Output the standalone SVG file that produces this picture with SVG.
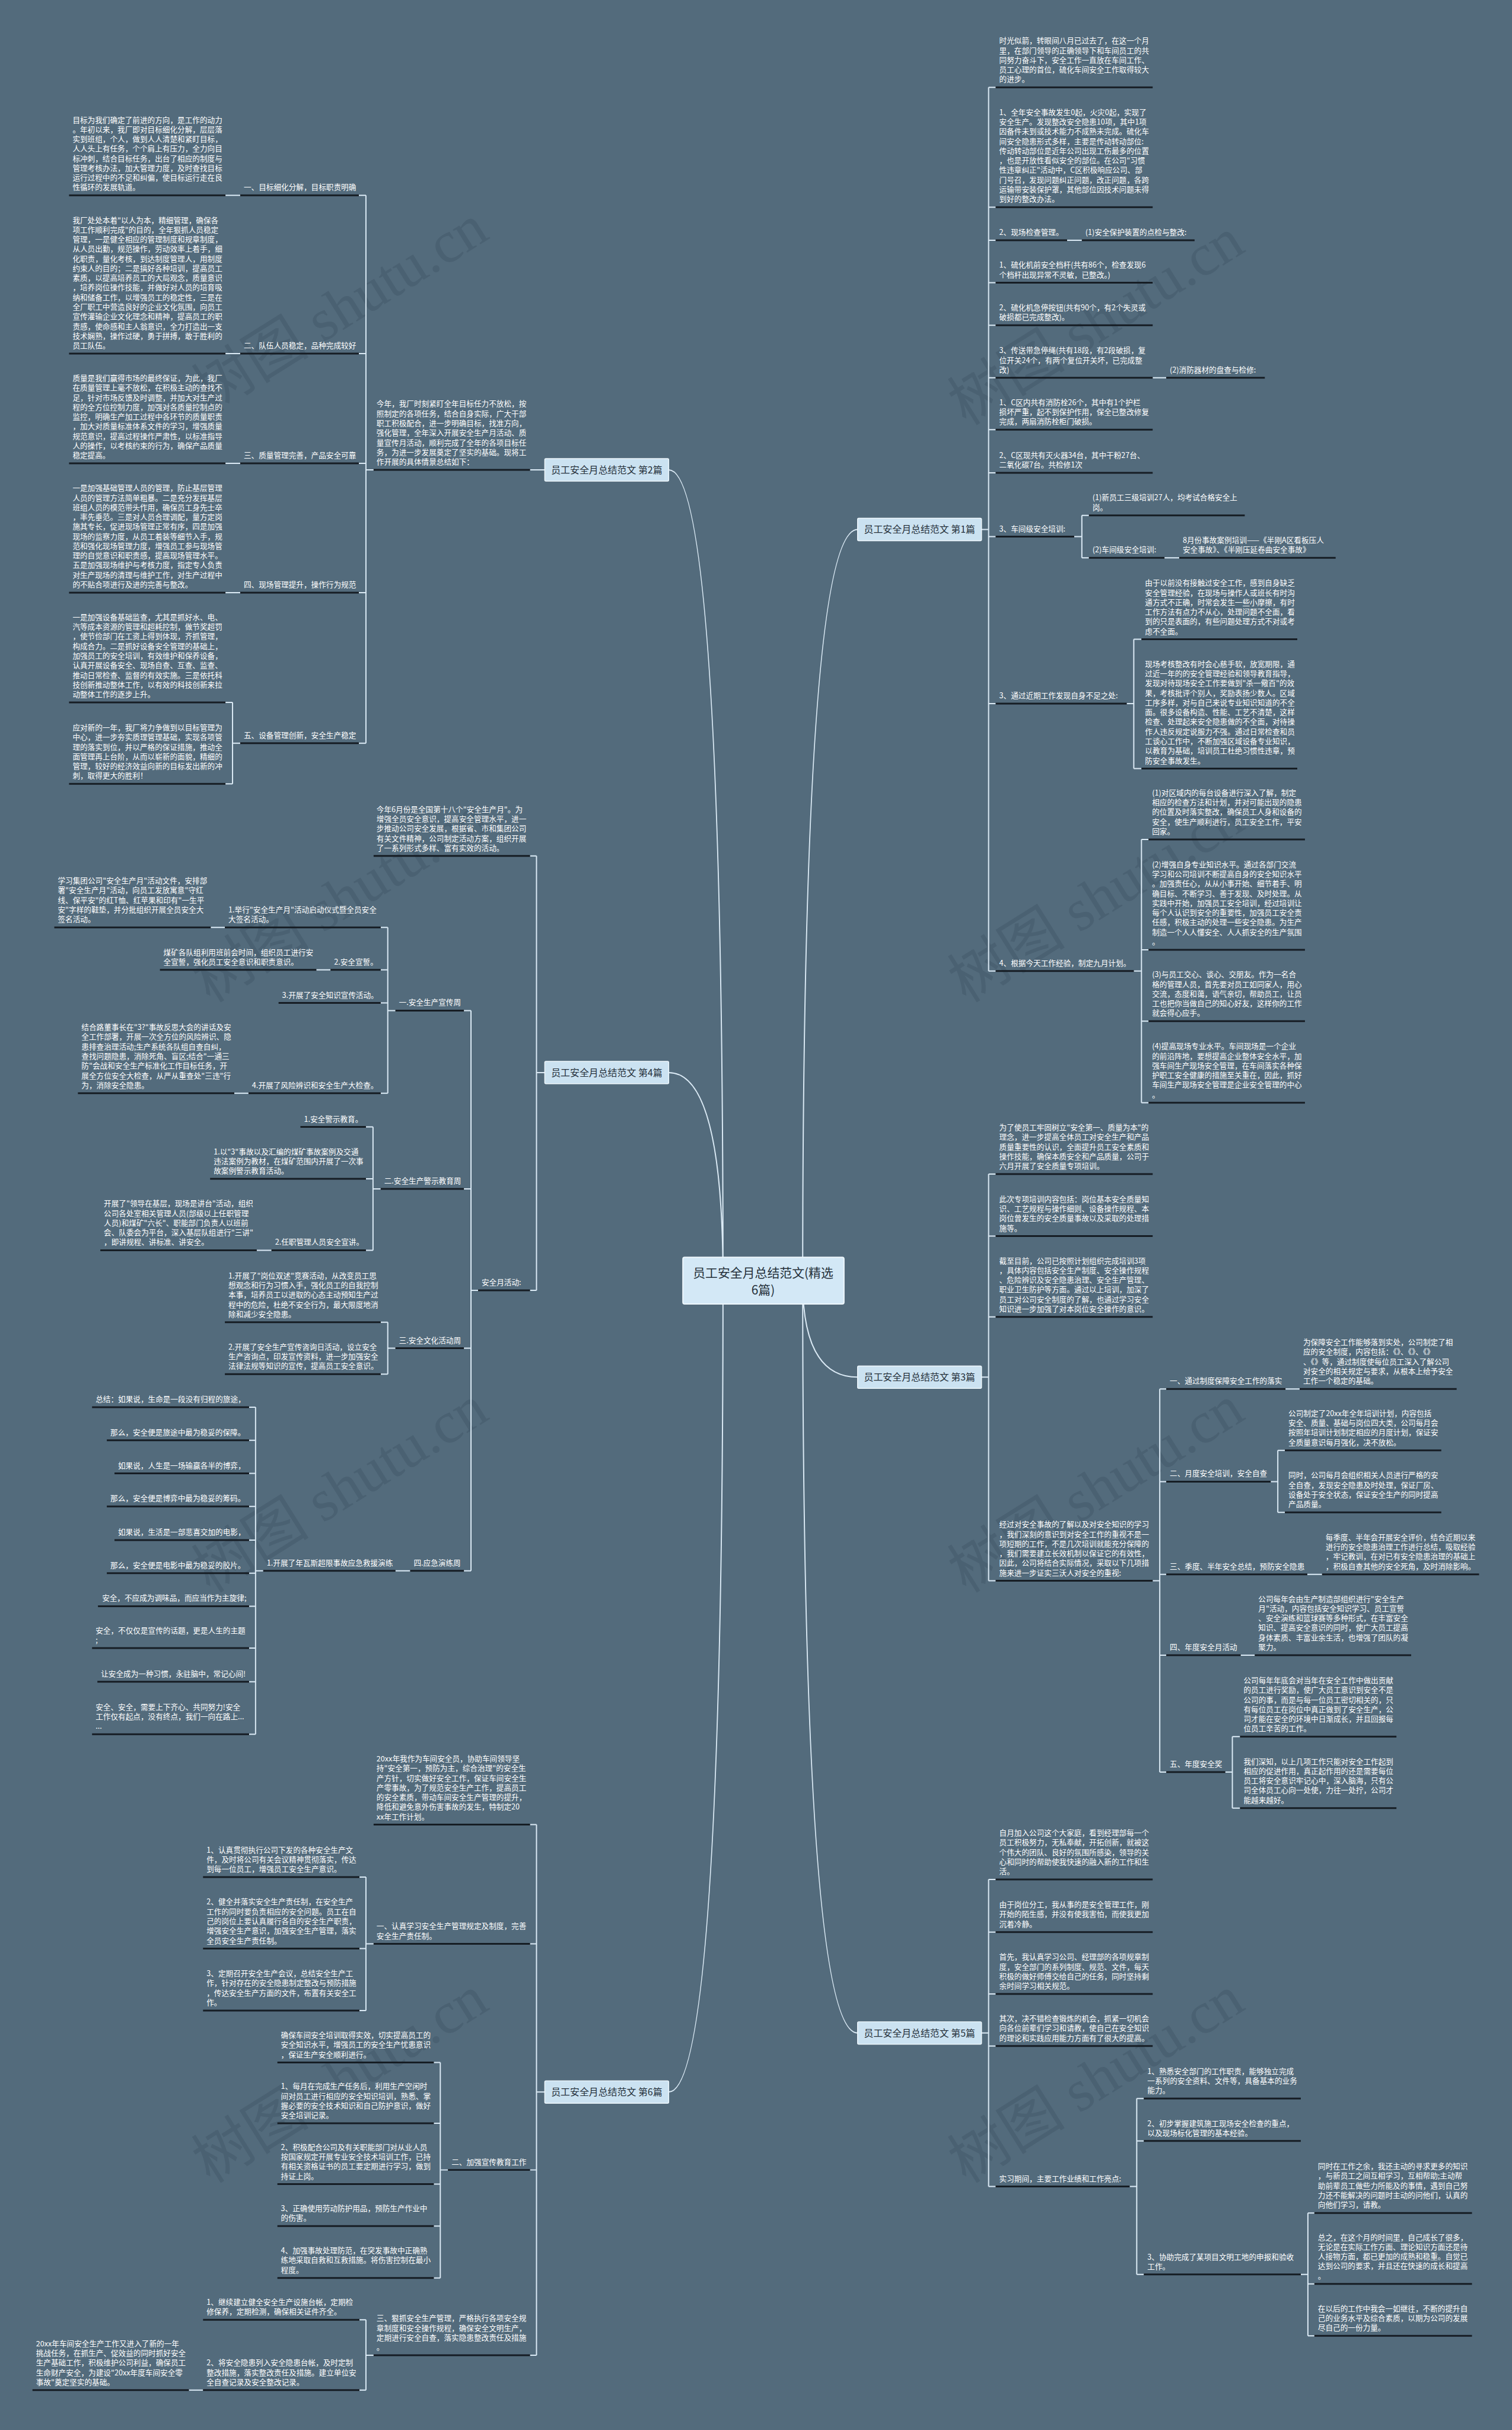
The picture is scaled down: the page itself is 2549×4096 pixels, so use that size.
<svg xmlns="http://www.w3.org/2000/svg" width="2549" height="4096" viewBox="0 0 2549 4096">
<style>
.t{font-family:'Noto Sans CJK SC','Noto Sans',sans-serif;font-size:12.7px;fill:#ffffff}
.ul{stroke:#161d24;stroke-width:3}
.c{stroke:#dbeaf5;stroke-width:2;fill:none}
.box{fill:#cbe2f1;stroke:#eef7fc;stroke-width:1.5}
.bt{font-family:'Noto Sans CJK SC','Noto Sans',sans-serif;font-size:16px;fill:#25303a;text-anchor:middle}
.ct{font-family:'Noto Sans CJK SC','Noto Sans',sans-serif;font-size:21px;fill:#25303a;text-anchor:middle}
.wm{font-family:'Liberation Serif','Noto Sans CJK SC',serif;font-size:100px;fill:#44596a;opacity:0.55}
</style>
<rect x="0" y="0" width="2549" height="4096" fill="#536b7c"/>
<g transform="scale(0.995)">
<g id="watermarks">
<text class="wm" transform="translate(356 700) rotate(-32)">树图 shutu.cn</text>
<text class="wm" transform="translate(356 1700) rotate(-32)">树图 shutu.cn</text>
<text class="wm" transform="translate(356 2700) rotate(-32)">树图 shutu.cn</text>
<text class="wm" transform="translate(356 3700) rotate(-32)">树图 shutu.cn</text>
<text class="wm" transform="translate(1637 722) rotate(-32)">树图 shutu.cn</text>
<text class="wm" transform="translate(1637 1700) rotate(-32)">树图 shutu.cn</text>
<text class="wm" transform="translate(1637 2700) rotate(-32)">树图 shutu.cn</text>
<text class="wm" transform="translate(1637 3700) rotate(-32)">树图 shutu.cn</text>
</g>
<g id="connectors" class="c">
<path d="M1133 796 Q1225 796 1225 2170 M1133 1817 Q1225 1817 1225 2170 M1133 3544 Q1225 3544 1225 2170 M1453 897 Q1360 897 1360 2170 M1453 2333 Q1360 2333 1360 2170 M1453 3444 Q1360 3444 1360 2170"/>
<path d="M898 796H923 M620 331V1259 M608 331H620 M608 599H620 M608 785H620 M608 1004H620 M608 1259H620 M620 796H633 M382 331H407 M382 599H407 M382 785H407 M382 1004H407 M394 1190V1328 M382 1190H394 M382 1328H394 M394 1259H407"/>
<path d="M909 1450V2186 M898 1450H909 M898 2186H909 M909 1817H923 M798 1712V2661 M786 1712H798 M786 2014H798 M786 2284H798 M786 2661H798 M798 2186H810 M657 1571V1852 M645 1571H657 M645 1643H657 M645 1699H657 M645 1852H657 M657 1712H670 M357 1571H381 M536 1643H560 M397 1852H421 M632 1909V2118 M620 1909H632 M620 1997H632 M620 2118H632 M632 2014H645 M435 2118H460 M657 2240V2328 M645 2240H657 M645 2328H657 M657 2284H670 M670 2661H695 M433 2384V2938 M422 2384H433 M422 2440H433 M422 2496H433 M422 2552H433 M422 2609H433 M422 2665H433 M422 2721H433 M422 2792H433 M422 2849H433 M422 2938H433 M433 2661H446"/>
<path d="M909 3091V3990 M898 3091H909 M898 3293H909 M898 3676H909 M898 3990H909 M909 3544H923 M620 3180V3406 M609 3180H620 M609 3301H620 M609 3406H620 M620 3293H633 M746 3494V3859 M735 3494H746 M735 3597H746 M735 3700H746 M735 3771H746 M735 3859H746 M746 3676H759 M620 3930V4049 M609 3930H620 M609 4049H620 M620 3990H633 M320 4049H344"/>
<path d="M1663 897H1675 M1675 148V1645 M1675 148H1687 M1675 351H1687 M1675 407H1687 M1675 479H1687 M1675 551H1687 M1675 640H1687 M1675 728H1687 M1675 801H1687 M1675 909H1687 M1675 1192H1687 M1675 1645H1687 M1808 407H1833 M1953 640H1976 M1833 873V945 M1820 909H1833 M1833 873H1845 M1833 945H1845 M1973 945H1998 M1921 1083V1302 M1909 1192H1921 M1921 1083H1934 M1921 1302H1934 M1934 1422V1868 M1921 1645H1934 M1934 1422H1946 M1934 1609H1946 M1934 1730H1946 M1934 1868H1946"/>
<path d="M1663 2333H1675 M1675 1989V2678 M1675 1989H1687 M1675 2094H1687 M1675 2231H1687 M1675 2678H1687 M1965 2353V3002 M1953 2678H1965 M1965 2353H1976 M1965 2510H1976 M1965 2667H1976 M1965 2804H1976 M1965 3002H1976 M2178 2353H2202 M2215 2667H2240 M2102 2804H2126 M2165 2457V2562 M2153 2510H2165 M2165 2457H2177 M2165 2562H2177 M2088 2942V3063 M2076 3002H2088 M2088 2942H2101 M2088 3063H2101"/>
<path d="M1663 3444H1675 M1675 3184V3704 M1675 3184H1687 M1675 3273H1687 M1675 3378H1687 M1675 3466H1687 M1675 3704H1687 M1926 3555V3853 M1914 3704H1926 M1926 3555H1938 M1926 3627H1938 M1926 3853H1938 M2216 3749V3957 M2204 3853H2216 M2216 3749H2227 M2216 3869H2227 M2216 3957H2227"/>
</g>

<g id="center"><rect x="1157" y="2130" width="273" height="79" rx="3" fill="#d3e8f6" stroke="#eef7fc" stroke-width="2"/><text class="ct" x="1293" y="2164">员工安全月总结范文(精选</text><text class="ct" x="1293" y="2193">6篇)</text></g>

<g id="b2"><rect class="box" x="923" y="777" width="210" height="38" rx="2"/><text class="bt" x="1028" y="802">员工安全月总结范文 第2篇</text></g>
<g id="b4"><rect class="box" x="923" y="1798" width="210" height="38" rx="2"/><text class="bt" x="1028" y="1823">员工安全月总结范文 第4篇</text></g>
<g id="b6"><rect class="box" x="923" y="3525" width="210" height="38" rx="2"/><text class="bt" x="1028" y="3550">员工安全月总结范文 第6篇</text></g>
<g id="b1"><rect class="box" x="1453" y="878" width="210" height="38" rx="2"/><text class="bt" x="1558" y="903">员工安全月总结范文 第1篇</text></g>
<g id="b3"><rect class="box" x="1453" y="2314" width="210" height="38" rx="2"/><text class="bt" x="1558" y="2339">员工安全月总结范文 第3篇</text></g>
<g id="b5"><rect class="box" x="1453" y="3425" width="210" height="38" rx="2"/><text class="bt" x="1558" y="3450">员工安全月总结范文 第5篇</text></g>

<!-- 第2篇 -->
<g id="p2-intro"><text class="t" y="688.9"><tspan x="638">今年，我厂时刻紧盯全年目标任力不放松，按</tspan><tspan x="638" dy="16.35">照制定的各项任务，结合自身实际，广大干部</tspan><tspan x="638" dy="16.35">职工积极配合，进一步明确目标，找准方向，</tspan><tspan x="638" dy="16.35">强化管理，全年深入开展安全生产月活动、质</tspan><tspan x="638" dy="16.35">量宣传月活动，顺利完成了全年的各项目标任</tspan><tspan x="638" dy="16.35">务，为进一步发展奠定了坚实的基础。现将工</tspan><tspan x="638" dy="16.35">作开展的具体情景总结如下：</tspan></text><line class="ul" x1="633" y1="796" x2="898" y2="796"/></g>
<g id="p2-1"><text class="t" x="413" y="322">一、目标细化分解，目标职责明确</text><line class="ul" x1="407" y1="331" x2="608" y2="331"/></g>
<g id="p2-2"><text class="t" x="413" y="590">二、队伍人员稳定，品种完成较好</text><line class="ul" x1="407" y1="599" x2="608" y2="599"/></g>
<g id="p2-3"><text class="t" x="413" y="776">三、质量管理完善，产品安全可靠</text><line class="ul" x1="407" y1="785" x2="608" y2="785"/></g>
<g id="p2-4"><text class="t" x="413" y="995">四、现场管理提升，操作行为规范</text><line class="ul" x1="407" y1="1004" x2="608" y2="1004"/></g>
<g id="p2-5"><text class="t" x="413" y="1250">五、设备管理创新，安全生产稳定</text><line class="ul" x1="407" y1="1259" x2="608" y2="1259"/></g>
<g id="p2-1a"><text class="t" y="207.55"><tspan x="123">目标为我们确定了前进的方向，是工作的动力</tspan><tspan x="123" dy="16.35">。年初以来，我厂即对目标细化分解，层层落</tspan><tspan x="123" dy="16.35">实到班组，个人，做到人人清楚和紧盯目标，</tspan><tspan x="123" dy="16.35">人人头上有任务，个个肩上有压力，全力向目</tspan><tspan x="123" dy="16.35">标冲刺，结合目标任务，出台了相应的制度与</tspan><tspan x="123" dy="16.35">管理考核办法，加大管理力度，及时查找目标</tspan><tspan x="123" dy="16.35">运行过程中的不足和纠偏，使目标运行走在良</tspan><tspan x="123" dy="16.35">性循环的发展轨道。</tspan></text><line class="ul" x1="117" y1="331" x2="382" y2="331"/></g>
<g id="p2-2a"><text class="t" y="377.45"><tspan x="123">我厂处处本着"以人为本，精细管理，确保各</tspan><tspan x="123" dy="16.35">项工作顺利完成"的目的，全年狠抓人员稳定</tspan><tspan x="123" dy="16.35">管理，一是健全相应的管理制度和规章制度，</tspan><tspan x="123" dy="16.35">从人员出勤，规范操作，劳动效率上着手，细</tspan><tspan x="123" dy="16.35">化职责，量化考核，到达制度管理人，用制度</tspan><tspan x="123" dy="16.35">约束人的目的；二是搞好各种培训，提高员工</tspan><tspan x="123" dy="16.35">素质，以提高培养员工的大局观念，质量意识</tspan><tspan x="123" dy="16.35">，培养岗位操作技能，并做好对人员的培育吸</tspan><tspan x="123" dy="16.35">纳和储备工作，以增强员工的稳定性，三是在</tspan><tspan x="123" dy="16.35">全厂职工中营造良好的企业文化氛围，向员工</tspan><tspan x="123" dy="16.35">宣传灌输企业文化理念和精神，提高员工的职</tspan><tspan x="123" dy="16.35">责感，使命感和主人翁意识，全力打造出一支</tspan><tspan x="123" dy="16.35">技术娴熟，操作过硬，勇于拼搏，敢于胜利的</tspan><tspan x="123" dy="16.35">员工队伍。</tspan></text><line class="ul" x1="117" y1="599" x2="382" y2="599"/></g>
<g id="p2-3a"><text class="t" y="645.2"><tspan x="123">质量是我们赢得市场的最终保证，为此，我厂</tspan><tspan x="123" dy="16.35">在质量管理上毫不放松，在积极主动的查找不</tspan><tspan x="123" dy="16.35">足，针对市场反馈及时调整，并加大对生产过</tspan><tspan x="123" dy="16.35">程的全方位控制力度，加强对各质量控制点的</tspan><tspan x="123" dy="16.35">监控，明确生产加工过程中各环节的质量职责</tspan><tspan x="123" dy="16.35">，加大对质量标准体系文件的学习，增强质量</tspan><tspan x="123" dy="16.35">规范意识，提高过程操作严肃性，以标准指导</tspan><tspan x="123" dy="16.35">人的操作，以考核约束的行为，确保产品质量</tspan><tspan x="123" dy="16.35">稳定提高。</tspan></text><line class="ul" x1="117" y1="785" x2="382" y2="785"/></g>
<g id="p2-4a"><text class="t" y="831.5"><tspan x="123">一是加强基础管理人员的管理，防止基层管理</tspan><tspan x="123" dy="16.35">人员的管理方法简单粗暴。二是充分发挥基层</tspan><tspan x="123" dy="16.35">班组人员的模范带头作用，确保员工身先士卒</tspan><tspan x="123" dy="16.35">，率先垂范。三是对人员合理调配，量方定岗</tspan><tspan x="123" dy="16.35">施其专长，促进现场管理正常有序，四是加强</tspan><tspan x="123" dy="16.35">现场的监察力度，从员工着装等细节入手，规</tspan><tspan x="123" dy="16.35">范和强化现场管理力度，增强员工参与现场管</tspan><tspan x="123" dy="16.35">理的自觉意识和职责感，提高现场管理水平。</tspan><tspan x="123" dy="16.35">五是加强现场维护与考核力度，指定专人负责</tspan><tspan x="123" dy="16.35">对生产现场的清理与维护工作，对生产过程中</tspan><tspan x="123" dy="16.35">的不贴合项进行及进的完善与整改。</tspan></text><line class="ul" x1="117" y1="1004" x2="382" y2="1004"/></g>
<g id="p2-5a"><text class="t" y="1050.2"><tspan x="123">一是加强设备基础监查，尤其是抓好水、电、</tspan><tspan x="123" dy="16.35">汽等成本资源的管理和超耗控制，做节奖超罚</tspan><tspan x="123" dy="16.35">，使节俭部门在工资上得到体现，齐抓管理，</tspan><tspan x="123" dy="16.35">构成合力。二是抓好设备安全管理的基础上，</tspan><tspan x="123" dy="16.35">加强员工的安全培训，有效维护和保养设备，</tspan><tspan x="123" dy="16.35">认真开展设备安全、现场自查、互查、监查、</tspan><tspan x="123" dy="16.35">推动日常检查、监督的有效实施。三是依托科</tspan><tspan x="123" dy="16.35">技创新推动整体工作，以有效的科技创新来拉</tspan><tspan x="123" dy="16.35">动整体工作的逐步上升。</tspan></text><line class="ul" x1="117" y1="1190" x2="382" y2="1190"/></g>
<g id="p2-5b"><text class="t" y="1237.25"><tspan x="123">应对新的一年，我厂将力争做到以目标管理为</tspan><tspan x="123" dy="16.35">中心，进一步夯实质理管理基础，实现各项管</tspan><tspan x="123" dy="16.35">理的落实到位，并以严格的保证措施，推动全</tspan><tspan x="123" dy="16.35">面管理再上台阶，从而以崭新的面貌，精细的</tspan><tspan x="123" dy="16.35">管理，较好的经济效益向新的目标发出新的冲</tspan><tspan x="123" dy="16.35">刺，取得更大的胜利！</tspan></text><line class="ul" x1="117" y1="1328" x2="382" y2="1328"/></g>

<!-- 第4篇 -->
<g id="p4-intro"><text class="t" y="1375.6"><tspan x="638">今年6月份是全国第十八个"安全生产月"。为</tspan><tspan x="638" dy="16.35">增强全员安全意识，提高安全管理水平，进一</tspan><tspan x="638" dy="16.35">步推动公司安全发展，根据省、市和集团公司</tspan><tspan x="638" dy="16.35">有关文件精神，公司制定活动方案，组织开展</tspan><tspan x="638" dy="16.35">了一系列形式多样、富有实效的活动。</tspan></text><line class="ul" x1="633" y1="1450" x2="898" y2="1450"/></g>
<g id="p4-act"><text class="t" x="816" y="2177">安全月活动:</text><line class="ul" x1="810" y1="2186" x2="898" y2="2186"/></g>
<g id="p4-1"><text class="t" x="676" y="1703">一.安全生产宣传周</text><line class="ul" x1="670" y1="1712" x2="786" y2="1712"/></g>
<g id="p4-2"><text class="t" x="651" y="2005">二.安全生产警示教育周</text><line class="ul" x1="645" y1="2014" x2="786" y2="2014"/></g>
<g id="p4-3"><text class="t" x="676" y="2275">三.安全文化活动周</text><line class="ul" x1="670" y1="2284" x2="786" y2="2284"/></g>
<g id="p4-4"><text class="t" x="701" y="2652">四.应急演练周</text><line class="ul" x1="695" y1="2661" x2="786" y2="2661"/></g>
<g id="p4-1-1"><text class="t" y="1545.65"><tspan x="387">1.举行"安全生产月"活动启动仪式暨全员安全</tspan><tspan x="387" dy="16.35">大签名活动。</tspan></text><line class="ul" x1="381" y1="1571" x2="645" y2="1571"/></g>
<g id="p4-1-1a"><text class="t" y="1496.6"><tspan x="98">学习集团公司"安全生产月"活动文件，安排部</tspan><tspan x="98" dy="16.35">署"安全生产月"活动，向员工发放寓意"守红</tspan><tspan x="98" dy="16.35">线、保平安"的红T恤、红苹果和印有"一生平</tspan><tspan x="98" dy="16.35">安"字样的鞋垫，并分批组织开展全员安全大</tspan><tspan x="98" dy="16.35">签名活动。</tspan></text><line class="ul" x1="92" y1="1571" x2="357" y2="1571"/></g>
<g id="p4-1-2"><text class="t" x="566" y="1634">2.安全宣誓。</text><line class="ul" x1="560" y1="1643" x2="645" y2="1643"/></g>
<g id="p4-1-2a"><text class="t" y="1617.65"><tspan x="277">煤矿各队组利用班前会时间，组织员工进行安</tspan><tspan x="277" dy="16.35">全宣誓，强化员工安全意识和职责意识。</tspan></text><line class="ul" x1="271" y1="1643" x2="536" y2="1643"/></g>
<g id="p4-1-3"><text class="t" x="478" y="1690">3.开展了安全知识宣传活动。</text><line class="ul" x1="472" y1="1699" x2="645" y2="1699"/></g>
<g id="p4-1-4"><text class="t" x="427" y="1843">4.开展了风险辨识和安全生产大检查。</text><line class="ul" x1="421" y1="1852" x2="645" y2="1852"/></g>
<g id="p4-1-4a"><text class="t" y="1744.9"><tspan x="138">结合路董事长在"3?"事故反思大会的讲话及安</tspan><tspan x="138" dy="16.35">全工作部署，开展一次全方位的风险辨识、隐</tspan><tspan x="138" dy="16.35">患排查治理活动;生产系统各队组自查自纠，</tspan><tspan x="138" dy="16.35">查找问题隐患，消除死角、盲区;结合"一通三</tspan><tspan x="138" dy="16.35">防"会战和安全生产标准化工作目标任务，开</tspan><tspan x="138" dy="16.35">展全方位安全大检查，从严从重查处"三违"行</tspan><tspan x="138" dy="16.35">为，消除安全隐患。</tspan></text><line class="ul" x1="132" y1="1852" x2="397" y2="1852"/></g>
<g id="p4-2-1"><text class="t" x="515" y="1900">1.安全警示教育。</text><line class="ul" x1="509" y1="1909" x2="620" y2="1909"/></g>
<g id="p4-2-2"><text class="t" y="1955.3"><tspan x="362">1.以"3"事故以及汇编的煤矿事故案例及交通</tspan><tspan x="362" dy="16.35">违法案例为教材，在煤矿范围内开展了一次事</tspan><tspan x="362" dy="16.35">故案例警示教育活动。</tspan></text><line class="ul" x1="356" y1="1997" x2="620" y2="1997"/></g>
<g id="p4-2-3"><text class="t" x="466" y="2109">2.任职管理人员安全宣讲。</text><line class="ul" x1="460" y1="2118" x2="620" y2="2118"/></g>
<g id="p4-2-3a"><text class="t" y="2043.6"><tspan x="176">开展了"领导在基层，现场是讲台"活动，组织</tspan><tspan x="176" dy="16.35">公司各处室相关管理人员(部级以上任职管理</tspan><tspan x="176" dy="16.35">人员)和煤矿"六长"、职能部门负责人以班前</tspan><tspan x="176" dy="16.35">会、队委会为平台，深入基层队组进行"三讲"</tspan><tspan x="176" dy="16.35">，即讲规程、讲标准、讲安全。</tspan></text><line class="ul" x1="170" y1="2118" x2="435" y2="2118"/></g>
<g id="p4-3-1"><text class="t" y="2165.6"><tspan x="387">1.开展了"岗位双述"竞赛活动，从改变员工思</tspan><tspan x="387" dy="16.35">想观念和行为习惯入手，强化员工的自我控制</tspan><tspan x="387" dy="16.35">本事，培养员工以进取的心态主动预知生产过</tspan><tspan x="387" dy="16.35">程中的危险，杜绝不安全行为，最大限度地消</tspan><tspan x="387" dy="16.35">除和减少安全隐患。</tspan></text><line class="ul" x1="381" y1="2240" x2="645" y2="2240"/></g>
<g id="p4-3-2"><text class="t" y="2286.3"><tspan x="387">2.开展了安全生产宣传咨询日活动，设立安全</tspan><tspan x="387" dy="16.35">生产咨询点，印发宣传资料，进一步加强安全</tspan><tspan x="387" dy="16.35">法律法规等知识的宣传，提高员工安全意识。</tspan></text><line class="ul" x1="381" y1="2328" x2="645" y2="2328"/></g>
<g id="p4-4-1"><text class="t" x="452" y="2652">1.开展了年瓦斯超限事故应急救援演练</text><line class="ul" x1="446" y1="2661" x2="670" y2="2661"/></g>
<g id="p4-s1"><text class="t" x="162" y="2375">总结：如果说，生命是一段没有归程的旅途，</text><line class="ul" x1="156" y1="2384" x2="422" y2="2384"/></g>
<g id="p4-s2"><text class="t" x="187" y="2431">那么，安全便是旅途中最为稳妥的保障。</text><line class="ul" x1="181" y1="2440" x2="422" y2="2440"/></g>
<g id="p4-s3"><text class="t" x="200" y="2487">如果说，人生是一场输赢各半的博弈，</text><line class="ul" x1="194" y1="2496" x2="422" y2="2496"/></g>
<g id="p4-s4"><text class="t" x="187" y="2543">那么，安全便是博弈中最为稳妥的筹码。</text><line class="ul" x1="181" y1="2552" x2="422" y2="2552"/></g>
<g id="p4-s5"><text class="t" x="200" y="2600">如果说，生活是一部悲喜交加的电影，</text><line class="ul" x1="194" y1="2609" x2="422" y2="2609"/></g>
<g id="p4-s6"><text class="t" x="187" y="2656">那么，安全便是电影中最为稳妥的胶片。</text><line class="ul" x1="181" y1="2665" x2="422" y2="2665"/></g>
<g id="p4-s7"><text class="t" x="173" y="2712">安全，不应成为调味品，而应当作为主旋律;</text><line class="ul" x1="166" y1="2721" x2="422" y2="2721"/></g>
<g id="p4-s8"><text class="t" y="2766.65"><tspan x="162">安全，不仅仅是宣传的话题，更是人生的主题</tspan><tspan x="162" dy="16.35">;</tspan></text><line class="ul" x1="156" y1="2792" x2="422" y2="2792"/></g>
<g id="p4-s9"><text class="t" x="171" y="2840">让安全成为一种习惯，永驻脑中，常记心间!</text><line class="ul" x1="165" y1="2849" x2="422" y2="2849"/></g>
<g id="p4-s10"><text class="t" y="2896.3"><tspan x="162">安全、安全，需要上下齐心、共同努力!安全</tspan><tspan x="162" dy="16.35">工作仅有起点，没有终点，我们一向在路上...</tspan><tspan x="162" dy="16.35">...</tspan></text><line class="ul" x1="156" y1="2938" x2="422" y2="2938"/></g>

<!-- 第6篇 -->
<g id="p6-intro"><text class="t" y="2983.9"><tspan x="638">20xx年我作为车间安全员，协助车间领导坚</tspan><tspan x="638" dy="16.35">持"安全第一，预防为主，综合治理"的安全生</tspan><tspan x="638" dy="16.35">产方针，切实做好安全工作，保证车间安全生</tspan><tspan x="638" dy="16.35">产零事故，为了规范安全生产工作，提高员工</tspan><tspan x="638" dy="16.35">的安全素质，带动车间安全生产管理的提升，</tspan><tspan x="638" dy="16.35">降低和避免意外伤害事故的发生，特制定20</tspan><tspan x="638" dy="16.35">xx年工作计划。</tspan></text><line class="ul" x1="633" y1="3091" x2="898" y2="3091"/></g>
<g id="p6-1"><text class="t" y="3267.65"><tspan x="638">一、认真学习安全生产管理规定及制度，完善</tspan><tspan x="638" dy="16.35">安全生产责任制。</tspan></text><line class="ul" x1="633" y1="3293" x2="898" y2="3293"/></g>
<g id="p6-1-1"><text class="t" y="3138.3"><tspan x="350">1、认真贯彻执行公司下发的各种安全生产文</tspan><tspan x="350" dy="16.35">件，及时将公司有关会议精神贯彻落实，传达</tspan><tspan x="350" dy="16.35">到每一位员工，增强员工安全生产意识。</tspan></text><line class="ul" x1="344" y1="3180" x2="609" y2="3180"/></g>
<g id="p6-1-2"><text class="t" y="3226.6"><tspan x="350">2、健全并落实安全生产责任制，在安全生产</tspan><tspan x="350" dy="16.35">工作的同时要负责相应的安全问题。员工在自</tspan><tspan x="350" dy="16.35">己的岗位上要认真履行各自的安全生产职责，</tspan><tspan x="350" dy="16.35">增强安全生产意识，加强安全生产管理，落实</tspan><tspan x="350" dy="16.35">全员安全生产责任制。</tspan></text><line class="ul" x1="344" y1="3301" x2="609" y2="3301"/></g>
<g id="p6-1-3"><text class="t" y="3347.95"><tspan x="350">3、定期召开安全生产会议，总结安全生产工</tspan><tspan x="350" dy="16.35">作，针对存在的安全隐患制定整改与预防措施</tspan><tspan x="350" dy="16.35">，传达安全生产方面的文件，布置有关安全工</tspan><tspan x="350" dy="16.35">作。</tspan></text><line class="ul" x1="344" y1="3406" x2="609" y2="3406"/></g>
<g id="p6-2"><text class="t" x="765" y="3667">二、加强宣传教育工作</text><line class="ul" x1="759" y1="3676" x2="898" y2="3676"/></g>
<g id="p6-2-1"><text class="t" y="3452.3"><tspan x="476">确保车间安全培训取得实效，切实提高员工的</tspan><tspan x="476" dy="16.35">安全知识水平，增强员工的安全生产忧患意识</tspan><tspan x="476" dy="16.35">，保证生产安全顺利进行。</tspan></text><line class="ul" x1="470" y1="3494" x2="735" y2="3494"/></g>
<g id="p6-2-2"><text class="t" y="3538.95"><tspan x="476">1、每月在完成生产任务后，利用生产空闲时</tspan><tspan x="476" dy="16.35">间对员工进行相应的安全知识培训，熟悉、掌</tspan><tspan x="476" dy="16.35">握必要的安全技术知识和自己防护意识，做好</tspan><tspan x="476" dy="16.35">安全培训记录。</tspan></text><line class="ul" x1="470" y1="3597" x2="735" y2="3597"/></g>
<g id="p6-2-3"><text class="t" y="3641.95"><tspan x="476">2、积极配合公司及有关职能部门对从业人员</tspan><tspan x="476" dy="16.35">按国家规定开展专业安全技术培训工作，已持</tspan><tspan x="476" dy="16.35">有相关资格证书的员工要定期进行学习，做到</tspan><tspan x="476" dy="16.35">持证上岗。</tspan></text><line class="ul" x1="470" y1="3700" x2="735" y2="3700"/></g>
<g id="p6-2-4"><text class="t" y="3745.65"><tspan x="476">3、正确使用劳动防护用品，预防生产作业中</tspan><tspan x="476" dy="16.35">的伤害。</tspan></text><line class="ul" x1="470" y1="3771" x2="735" y2="3771"/></g>
<g id="p6-2-5"><text class="t" y="3817.3"><tspan x="476">4、加强事故处理防范，在突发事故中正确熟</tspan><tspan x="476" dy="16.35">练地采取自救和互救措施。将伤害控制在最小</tspan><tspan x="476" dy="16.35">程度。</tspan></text><line class="ul" x1="470" y1="3859" x2="735" y2="3859"/></g>
<g id="p6-3"><text class="t" y="3931.95"><tspan x="638">三、狠抓安全生产管理，严格执行各项安全规</tspan><tspan x="638" dy="16.35">章制度和安全操作规程，确保安全文明生产，</tspan><tspan x="638" dy="16.35">定期进行安全自查，落实隐患整改责任及措施</tspan><tspan x="638" dy="16.35">。</tspan></text><line class="ul" x1="633" y1="3990" x2="898" y2="3990"/></g>
<g id="p6-3-1"><text class="t" y="3904.65"><tspan x="350">1、继续建立健全安全生产设施台帐，定期检</tspan><tspan x="350" dy="16.35">修保养，定期检测，确保相关证件齐全。</tspan></text><line class="ul" x1="344" y1="3930" x2="609" y2="3930"/></g>
<g id="p6-3-2"><text class="t" y="4007.3"><tspan x="350">2、将安全隐患列入安全隐患台帐，及时定制</tspan><tspan x="350" dy="16.35">整改措施，落实整改责任及措施。建立单位安</tspan><tspan x="350" dy="16.35">全自查记录及安全整改记录。</tspan></text><line class="ul" x1="344" y1="4049" x2="609" y2="4049"/></g>
<g id="p6-3-2a"><text class="t" y="3974.6"><tspan x="61">20xx年车间安全生产工作又进入了新的一年</tspan><tspan x="61" dy="16.35">挑战任务，在抓生产、促效益的同时抓好安全</tspan><tspan x="61" dy="16.35">生产基础工作，积极维护公司利益，确保员工</tspan><tspan x="61" dy="16.35">生命财产安全，为建设"20xx年度车间安全零</tspan><tspan x="61" dy="16.35">事故"奠定坚实的基础。</tspan></text><line class="ul" x1="55" y1="4049" x2="320" y2="4049"/></g>

<!-- 第1篇 -->
<g id="p1-1"><text class="t" y="73.6"><tspan x="1693">时光似箭，转眼间八月已过去了，在这一个月</tspan><tspan x="1693" dy="16.35">里，在部门领导的正确领导下和车间员工的共</tspan><tspan x="1693" dy="16.35">同努力奋斗下，安全工作一直放在车间工作、</tspan><tspan x="1693" dy="16.35">员工心理的首位，硫化车间安全工作取得较大</tspan><tspan x="1693" dy="16.35">的进步。</tspan></text><line class="ul" x1="1687" y1="148" x2="1953" y2="148"/></g>
<g id="p1-2"><text class="t" y="194.85"><tspan x="1693">1、全年安全事故发生0起，火灾0起，实现了</tspan><tspan x="1693" dy="16.35">安全生产。发现整改安全隐患10项，其中1项</tspan><tspan x="1693" dy="16.35">因备件未到或技术能力不成熟未完成。硫化车</tspan><tspan x="1693" dy="16.35">间安全隐患形式多样，主要是传动转动部位:</tspan><tspan x="1693" dy="16.35">传动转动部位是近年公司出现工伤最多的位置</tspan><tspan x="1693" dy="16.35">，也是开放性看似安全的部位。在公司"习惯</tspan><tspan x="1693" dy="16.35">性违章纠正"活动中，C区积极响应公司、部</tspan><tspan x="1693" dy="16.35">门号召，发现问题纠正问题，改正问题，各跨</tspan><tspan x="1693" dy="16.35">运输带安装保护罩，其他部位因技术问题未得</tspan><tspan x="1693" dy="16.35">到好的整改办法。</tspan></text><line class="ul" x1="1687" y1="351" x2="1953" y2="351"/></g>
<g id="p1-3"><text class="t" x="1693" y="398">2、现场检查管理。</text><line class="ul" x1="1687" y1="407" x2="1808" y2="407"/></g>
<g id="p1-3a"><text class="t" x="1839" y="398">(1)安全保护装置的点检与整改:</text><line class="ul" x1="1833" y1="407" x2="2024" y2="407"/></g>
<g id="p1-4"><text class="t" y="453.65"><tspan x="1693">1、硫化机前安全档杆(共有86个，检查发现6</tspan><tspan x="1693" dy="16.35">个档杆出现异常不灵敏，已整改。)</tspan></text><line class="ul" x1="1687" y1="479" x2="1953" y2="479"/></g>
<g id="p1-5"><text class="t" y="525.65"><tspan x="1693">2、硫化机急停按钮(共有90个，有2个失灵或</tspan><tspan x="1693" dy="16.35">破损都已完成整改)。</tspan></text><line class="ul" x1="1687" y1="551" x2="1953" y2="551"/></g>
<g id="p1-6"><text class="t" y="598.3"><tspan x="1693">3、传送带急停绳(共有18段，有2段破损，复</tspan><tspan x="1693" dy="16.35">位开关24个，有两个复位开关坏，已完成整</tspan><tspan x="1693" dy="16.35">改)</tspan></text><line class="ul" x1="1687" y1="640" x2="1953" y2="640"/></g>
<g id="p1-6a"><text class="t" x="1982" y="631">(2)消防器材的盘查与检修:</text><line class="ul" x1="1976" y1="640" x2="2143" y2="640"/></g>
<g id="p1-7"><text class="t" y="686.3"><tspan x="1693">1、C区内共有消防栓26个，其中有1个护栏</tspan><tspan x="1693" dy="16.35">损坏严重，起不到保护作用，保全已整改修复</tspan><tspan x="1693" dy="16.35">完成，两扇消防栓柜门破损。</tspan></text><line class="ul" x1="1687" y1="728" x2="1953" y2="728"/></g>
<g id="p1-8"><text class="t" y="775.65"><tspan x="1693">2、C区现共有灭火器34台，其中干粉27台、</tspan><tspan x="1693" dy="16.35">二氧化碳7台。共检修1次</tspan></text><line class="ul" x1="1687" y1="801" x2="1953" y2="801"/></g>
<g id="p1-9"><text class="t" x="1693" y="900">3、车间级安全培训:</text><line class="ul" x1="1687" y1="909" x2="1820" y2="909"/></g>
<g id="p1-9-1"><text class="t" y="847.65"><tspan x="1851">(1)新员工三级培训27人，均考试合格安全上</tspan><tspan x="1851" dy="16.35">岗。</tspan></text><line class="ul" x1="1845" y1="873" x2="2109" y2="873"/></g>
<g id="p1-9-2"><text class="t" x="1851" y="936">(2)车间级安全培训:</text><line class="ul" x1="1845" y1="945" x2="1973" y2="945"/></g>
<g id="p1-9-2a"><text class="t" y="919.65"><tspan x="2004">8月份事故案例培训——《半刚A区看板压人</tspan><tspan x="2004" dy="16.35">安全事故》、《半刚压延卷曲安全事故》</tspan></text><line class="ul" x1="1998" y1="945" x2="2263" y2="945"/></g>
<g id="p1-10"><text class="t" x="1693" y="1183">3、通过近期工作发现自身不足之处:</text><line class="ul" x1="1687" y1="1192" x2="1909" y2="1192"/></g>
<g id="p1-10-1"><text class="t" y="992.25"><tspan x="1940">由于以前没有接触过安全工作，感到自身缺乏</tspan><tspan x="1940" dy="16.35">安全管理经验，在现场与操作人或班长有时沟</tspan><tspan x="1940" dy="16.35">通方式不正确，时常会发生一些小摩擦，有时</tspan><tspan x="1940" dy="16.35">工作方法有点力不从心，处理问题不全面，看</tspan><tspan x="1940" dy="16.35">到的只是表面的，有些问题处理方式不对或考</tspan><tspan x="1940" dy="16.35">虑不全面。</tspan></text><line class="ul" x1="1934" y1="1083" x2="2198" y2="1083"/></g>
<g id="p1-10-2"><text class="t" y="1129.5"><tspan x="1940">现场考核整改有时会心慈手软，放宽期限，通</tspan><tspan x="1940" dy="16.35">过近一年的的安全管理经验和领导教育指导，</tspan><tspan x="1940" dy="16.35">发现对待现场安全工作要做到"杀一儆百"的效</tspan><tspan x="1940" dy="16.35">果，考核批评个别人，奖励表扬少数人。区域</tspan><tspan x="1940" dy="16.35">工序多样，对与自己来说专业知识知道的不全</tspan><tspan x="1940" dy="16.35">面。很多设备构造、性能、工艺不清楚，这样</tspan><tspan x="1940" dy="16.35">检查、处理起来安全隐患做的不全面，对待操</tspan><tspan x="1940" dy="16.35">作人违反规定说服力不强。通过日常检查和员</tspan><tspan x="1940" dy="16.35">工谈心工作中，不断加强区域设备专业知识，</tspan><tspan x="1940" dy="16.35">以教育为基础，培训员工杜绝习惯性违章，预</tspan><tspan x="1940" dy="16.35">防安全事故发生。</tspan></text><line class="ul" x1="1934" y1="1302" x2="2198" y2="1302"/></g>
<g id="p1-11"><text class="t" x="1693" y="1636">4、根据今天工作经验，制定九月计划。</text><line class="ul" x1="1687" y1="1645" x2="1921" y2="1645"/></g>
<g id="p1-11-1"><text class="t" y="1347.6"><tspan x="1952">(1)对区域内的每台设备进行深入了解，制定</tspan><tspan x="1952" dy="16.35">相应的检查方法和计划，并对可能出现的隐患</tspan><tspan x="1952" dy="16.35">的位置及时落实整改，确保员工人身和设备的</tspan><tspan x="1952" dy="16.35">安全，使生产顺利进行，员工安全工作，平安</tspan><tspan x="1952" dy="16.35">回家。</tspan></text><line class="ul" x1="1946" y1="1422" x2="2211" y2="1422"/></g>
<g id="p1-11-2"><text class="t" y="1469.2"><tspan x="1952">(2)增强自身专业知识水平。通过各部门交流</tspan><tspan x="1952" dy="16.35">学习和公司培训不断提高自身的安全知识水平</tspan><tspan x="1952" dy="16.35">。加强责任心，从从小事开始、细节着手、明</tspan><tspan x="1952" dy="16.35">确目标、不断学习、善于发现、及时处理。从</tspan><tspan x="1952" dy="16.35">实践中开始，加强员工安全培训，经过培训让</tspan><tspan x="1952" dy="16.35">每个人认识到安全的重要性，加强员工安全责</tspan><tspan x="1952" dy="16.35">任感，积极主动的处理一些安全隐患。为生产</tspan><tspan x="1952" dy="16.35">制造一个人人懂安全、人人抓安全的生产氛围</tspan><tspan x="1952" dy="16.35">。</tspan></text><line class="ul" x1="1946" y1="1609" x2="2211" y2="1609"/></g>
<g id="p1-11-3"><text class="t" y="1655.6"><tspan x="1952">(3)与员工交心、谈心、交朋友。作为一名合</tspan><tspan x="1952" dy="16.35">格的管理人员，首先要对员工如同家人，用心</tspan><tspan x="1952" dy="16.35">交流，态度和蔼，语气亲切，帮助员工，让员</tspan><tspan x="1952" dy="16.35">工也把你当做自己的知心好友，这样你的工作</tspan><tspan x="1952" dy="16.35">就会得心应手。</tspan></text><line class="ul" x1="1946" y1="1730" x2="2211" y2="1730"/></g>
<g id="p1-11-4"><text class="t" y="1777.25"><tspan x="1952">(4)提高现场专业水平。车间现场是一个企业</tspan><tspan x="1952" dy="16.35">的前沿阵地，要想提高企业整体安全水平，加</tspan><tspan x="1952" dy="16.35">强车间生产现场安全管理，在车间落实各种保</tspan><tspan x="1952" dy="16.35">护职工安全健康的措施至关重在，因此，抓好</tspan><tspan x="1952" dy="16.35">车间生产现场安全管理是企业安全管理的中心</tspan><tspan x="1952" dy="16.35">。</tspan></text><line class="ul" x1="1946" y1="1868" x2="2211" y2="1868"/></g>

<!-- 第3篇 -->
<g id="p3-1"><text class="t" y="1914.6"><tspan x="1693">为了使员工牢固树立"安全第一、质量为本"的</tspan><tspan x="1693" dy="16.35">理念，进一步提高全体员工对安全生产和产品</tspan><tspan x="1693" dy="16.35">质量重要性的认识，全面提升员工安全素质和</tspan><tspan x="1693" dy="16.35">操作技能，确保本质安全和产品质量，公司于</tspan><tspan x="1693" dy="16.35">六月开展了安全质量专项培训。</tspan></text><line class="ul" x1="1687" y1="1989" x2="1953" y2="1989"/></g>
<g id="p3-2"><text class="t" y="2035.95"><tspan x="1693">此次专项培训内容包括：岗位基本安全质量知</tspan><tspan x="1693" dy="16.35">识、工艺规程与操作细则、设备操作规程、本</tspan><tspan x="1693" dy="16.35">岗位曾发生的安全质量事故以及采取的处理措</tspan><tspan x="1693" dy="16.35">施等。</tspan></text><line class="ul" x1="1687" y1="2094" x2="1953" y2="2094"/></g>
<g id="p3-3"><text class="t" y="2140.25"><tspan x="1693">截至目前，公司已按照计划组织完成培训3项</tspan><tspan x="1693" dy="16.35">，具体内容包括安全生产制度、安全操作规程</tspan><tspan x="1693" dy="16.35">、危险辨识及安全隐患治理、安全生产管理、</tspan><tspan x="1693" dy="16.35">职业卫生防护等方面。通过以上培训，加深了</tspan><tspan x="1693" dy="16.35">员工对公司安全制度的了解，也通过学习安全</tspan><tspan x="1693" dy="16.35">知识进一步加强了对本岗位安全操作的意识。</tspan></text><line class="ul" x1="1687" y1="2231" x2="1953" y2="2231"/></g>
<g id="p3-4"><text class="t" y="2587.25"><tspan x="1693">经过对安全事故的了解以及对安全知识的学习</tspan><tspan x="1693" dy="16.35">，我们深刻的意识到对安全工作的重视不是一</tspan><tspan x="1693" dy="16.35">项短期的工作，不是几次培训就能充分保障的</tspan><tspan x="1693" dy="16.35">，我们需要建立长效机制以保证它的有效性，</tspan><tspan x="1693" dy="16.35">因此，公司将结合实际情况，采取以下几项措</tspan><tspan x="1693" dy="16.35">施来进一步证实三沃人对安全的重视:</tspan></text><line class="ul" x1="1687" y1="2678" x2="1953" y2="2678"/></g>
<g id="p3-4-1"><text class="t" x="1982" y="2344">一、通过制度保障安全工作的落实</text><line class="ul" x1="1976" y1="2353" x2="2178" y2="2353"/></g>
<g id="p3-4-1a"><text class="t" y="2278.6"><tspan x="2208">为保障安全工作能够落到实处，公司制定了相</tspan><tspan x="2208" dy="16.35">应的安全制度，内容包括：《》、《》、《》</tspan><tspan x="2208" dy="16.35">、《》等，通过制度使每位员工深入了解公司</tspan><tspan x="2208" dy="16.35">对安全的相关规定与要求，从根本上给予安全</tspan><tspan x="2208" dy="16.35">工作一个稳定的基础。</tspan></text><line class="ul" x1="2202" y1="2353" x2="2468" y2="2353"/></g>
<g id="p3-4-2"><text class="t" x="1982" y="2501">二、月度安全培训，安全自查</text><line class="ul" x1="1976" y1="2510" x2="2153" y2="2510"/></g>
<g id="p3-4-2a"><text class="t" y="2398.95"><tspan x="2183">公司制定了20xx年全年培训计划，内容包括</tspan><tspan x="2183" dy="16.35">安全、质量、基础与岗位四大类，公司每月会</tspan><tspan x="2183" dy="16.35">按照年培训计划制定相应的月度计划，保证安</tspan><tspan x="2183" dy="16.35">全质量意识每月强化，决不放松。</tspan></text><line class="ul" x1="2177" y1="2457" x2="2442" y2="2457"/></g>
<g id="p3-4-2b"><text class="t" y="2503.95"><tspan x="2183">同时，公司每月会组织相关人员进行严格的安</tspan><tspan x="2183" dy="16.35">全自查，发现安全隐患及时处理，保证厂房、</tspan><tspan x="2183" dy="16.35">设备处于安全状态，保证安全生产的同时提高</tspan><tspan x="2183" dy="16.35">产品质量。</tspan></text><line class="ul" x1="2177" y1="2562" x2="2442" y2="2562"/></g>
<g id="p3-4-3"><text class="t" x="1982" y="2658">三、季度、半年安全总结，预防安全隐患</text><line class="ul" x1="1976" y1="2667" x2="2215" y2="2667"/></g>
<g id="p3-4-3a"><text class="t" y="2608.95"><tspan x="2246">每季度、半年会开展安全评价，结合近期以来</tspan><tspan x="2246" dy="16.35">进行的安全隐患治理工作进行总结，吸取经验</tspan><tspan x="2246" dy="16.35">，牢记教训，在对已有安全隐患治理的基础上</tspan><tspan x="2246" dy="16.35">，积极自查其他的安全死角，及时消除影响。</tspan></text><line class="ul" x1="2240" y1="2667" x2="2506" y2="2667"/></g>
<g id="p3-4-4"><text class="t" x="1982" y="2795">四、年度安全月活动</text><line class="ul" x1="1976" y1="2804" x2="2102" y2="2804"/></g>
<g id="p3-4-4a"><text class="t" y="2713.25"><tspan x="2132">公司每年会由生产制造部组织进行"安全生产</tspan><tspan x="2132" dy="16.35">月"活动，内容包括安全知识学习、员工宣誓</tspan><tspan x="2132" dy="16.35">、安全演练和篮球赛等多种形式，在丰富安全</tspan><tspan x="2132" dy="16.35">知识、提高安全意识的同时，使广大员工提高</tspan><tspan x="2132" dy="16.35">身体素质、丰富业余生活，也增强了团队的凝</tspan><tspan x="2132" dy="16.35">聚力。</tspan></text><line class="ul" x1="2126" y1="2804" x2="2391" y2="2804"/></g>
<g id="p3-4-5"><text class="t" x="1982" y="2993">五、年度安全奖</text><line class="ul" x1="1976" y1="3002" x2="2076" y2="3002"/></g>
<g id="p3-4-5a"><text class="t" y="2851.25"><tspan x="2107">公司每年年底会对当年在安全工作中做出贡献</tspan><tspan x="2107" dy="16.35">的员工进行奖励，使广大员工意识到安全不是</tspan><tspan x="2107" dy="16.35">公司的事，而是与每一位员工密切相关的，只</tspan><tspan x="2107" dy="16.35">有每位员工在岗位中真正做到了安全生产，公</tspan><tspan x="2107" dy="16.35">司才能在安全的环境中日渐成长，并且回报每</tspan><tspan x="2107" dy="16.35">位员工辛苦的工作。</tspan></text><line class="ul" x1="2101" y1="2942" x2="2366" y2="2942"/></g>
<g id="p3-4-5b"><text class="t" y="2988.6"><tspan x="2107">我们深知，以上几项工作只能对安全工作起到</tspan><tspan x="2107" dy="16.35">相应的促进作用，真正起作用的还是需要每位</tspan><tspan x="2107" dy="16.35">员工将安全意识牢记心中，深入脑海，只有公</tspan><tspan x="2107" dy="16.35">司全体员工心向一处使，力往一处拧，公司才</tspan><tspan x="2107" dy="16.35">能越来越好。</tspan></text><line class="ul" x1="2101" y1="3063" x2="2366" y2="3063"/></g>

<!-- 第5篇 -->
<g id="p5-1"><text class="t" y="3109.6"><tspan x="1693">自月加入公司这个大家庭，看到经理部每一个</tspan><tspan x="1693" dy="16.35">员工积极努力，无私奉献，开拓创新，就被这</tspan><tspan x="1693" dy="16.35">个伟大的团队、良好的氛围所感染，领导的关</tspan><tspan x="1693" dy="16.35">心和同时的帮助使我快速的融入新的工作和生</tspan><tspan x="1693" dy="16.35">活。</tspan></text><line class="ul" x1="1687" y1="3184" x2="1953" y2="3184"/></g>
<g id="p5-2"><text class="t" y="3231.3"><tspan x="1693">由于岗位分工，我从事的是安全管理工作，刚</tspan><tspan x="1693" dy="16.35">开始的陌生感，并没有使我害怕，而使我更加</tspan><tspan x="1693" dy="16.35">沉着冷静。</tspan></text><line class="ul" x1="1687" y1="3273" x2="1953" y2="3273"/></g>
<g id="p5-3"><text class="t" y="3319.95"><tspan x="1693">首先，我认真学习公司、经理部的各项规章制</tspan><tspan x="1693" dy="16.35">度，安全部门的系列制度、规范、文件，每天</tspan><tspan x="1693" dy="16.35">积极的做好师傅交给自己的任务，同时坚持剩</tspan><tspan x="1693" dy="16.35">余时间学习相关规范。</tspan></text><line class="ul" x1="1687" y1="3378" x2="1953" y2="3378"/></g>
<g id="p5-4"><text class="t" y="3424.3"><tspan x="1693">其次，决不错检查锻炼的机会，抓紧一切机会</tspan><tspan x="1693" dy="16.35">向各位前辈们学习和请教，使自己在安全知识</tspan><tspan x="1693" dy="16.35">的理论和实践应用能力方面有了很大的提高。</tspan></text><line class="ul" x1="1687" y1="3466" x2="1953" y2="3466"/></g>
<g id="p5-5"><text class="t" x="1693" y="3695">实习期间，主要工作业绩和工作亮点:</text><line class="ul" x1="1687" y1="3704" x2="1914" y2="3704"/></g>
<g id="p5-5-1"><text class="t" y="3513.3"><tspan x="1944">1、熟悉安全部门的工作职责，能够独立完成</tspan><tspan x="1944" dy="16.35">一系列的安全资料、文件等，具备基本的业务</tspan><tspan x="1944" dy="16.35">能力。</tspan></text><line class="ul" x1="1938" y1="3555" x2="2204" y2="3555"/></g>
<g id="p5-5-2"><text class="t" y="3601.65"><tspan x="1944">2、初步掌握建筑施工现场安全检查的重点，</tspan><tspan x="1944" dy="16.35">以及现场标化管理的基本经验。</tspan></text><line class="ul" x1="1938" y1="3627" x2="2204" y2="3627"/></g>
<g id="p5-5-3"><text class="t" y="3827.65"><tspan x="1944">3、协助完成了某项目文明工地的申报和验收</tspan><tspan x="1944" dy="16.35">工作。</tspan></text><line class="ul" x1="1938" y1="3853" x2="2204" y2="3853"/></g>
<g id="p5-5-3a"><text class="t" y="3674.6"><tspan x="2233">同时在工作之余，我还主动的寻求更多的知识</tspan><tspan x="2233" dy="16.35">，与新员工之间互相学习，互相帮助;主动帮</tspan><tspan x="2233" dy="16.35">助前辈员工做些力所能及的事情，遇到自己努</tspan><tspan x="2233" dy="16.35">力还不能解决的问题时主动的问他们，认真的</tspan><tspan x="2233" dy="16.35">向他们学习，请教。</tspan></text><line class="ul" x1="2227" y1="3749" x2="2494" y2="3749"/></g>
<g id="p5-5-3b"><text class="t" y="3794.6"><tspan x="2233">总之，在这个月的时间里，自己成长了很多，</tspan><tspan x="2233" dy="16.35">无论是在实际工作方面、理论知识方面还是待</tspan><tspan x="2233" dy="16.35">人接物方面，都已更加的成熟和稳重。自觉已</tspan><tspan x="2233" dy="16.35">达到公司的要求，并且还在快速的成长和提高</tspan><tspan x="2233" dy="16.35">。</tspan></text><line class="ul" x1="2227" y1="3869" x2="2494" y2="3869"/></g>
<g id="p5-5-3c"><text class="t" y="3915.3"><tspan x="2233">在以后的工作中我会一如继往，不断的提升自</tspan><tspan x="2233" dy="16.35">己的业务水平及综合素质，以期为公司的发展</tspan><tspan x="2233" dy="16.35">尽自己的一份力量。</tspan></text><line class="ul" x1="2227" y1="3957" x2="2494" y2="3957"/></g>
</g>
</svg>
